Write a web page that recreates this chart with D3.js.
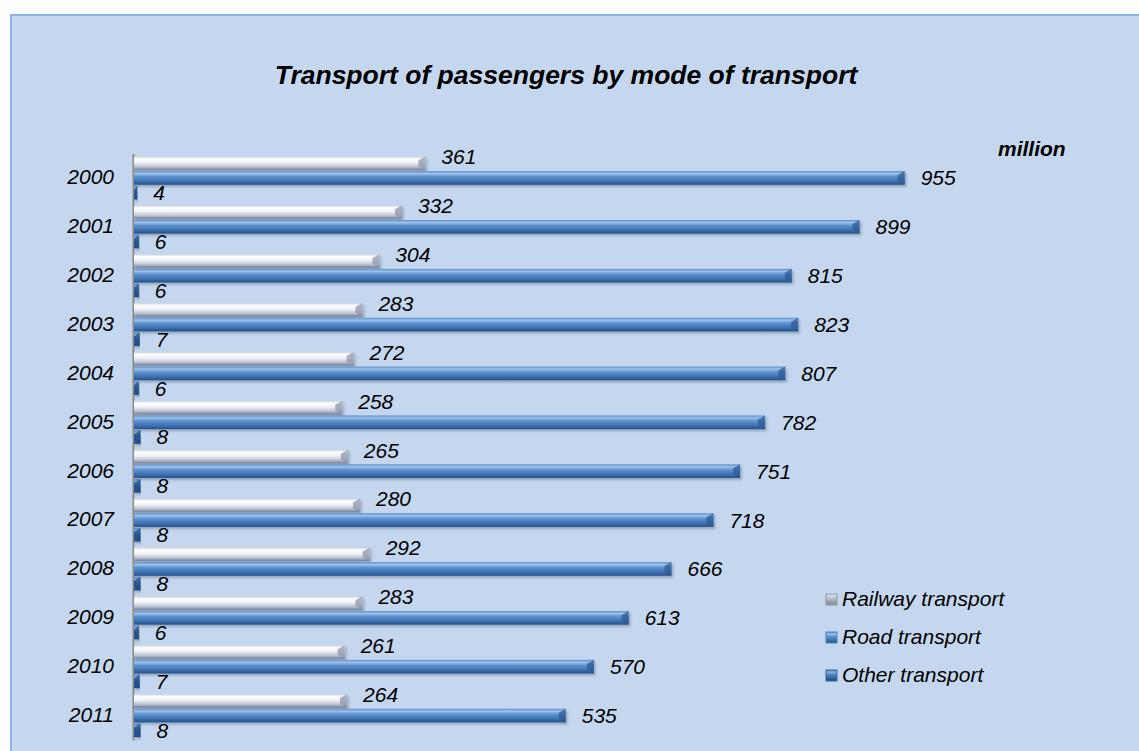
<!DOCTYPE html>
<html>
<head>
<meta charset="utf-8">
<script src="https://cdn.jsdelivr.net/npm/d3@7/dist/d3.min.js"></script>
<style>
  body { margin: 0; background: #ffffff; }
  svg text { font-family: "Liberation Sans", Arial, sans-serif; }
</style>
</head>
<body>
<div id="chart"></div>
<script>
// chart data
const years = ['2000', '2001', '2002', '2003', '2004', '2005', '2006', '2007', '2008', '2009', '2010', '2011'];
const seriesNames = ['Railway transport', 'Road transport', 'Other transport'];
const railway = [361, 332, 304, 283, 272, 258, 265, 280, 292, 283, 261, 264];
const road = [955, 899, 815, 823, 807, 782, 751, 718, 666, 613, 570, 535];
const other = [4, 6, 6, 7, 6, 8, 8, 8, 8, 6, 7, 8];
const seriesValues = [railway, road, other];

const W = 1139, H = 751;
const svg = d3.select('#chart').append('svg')
    .attr('width', W)
    .attr('height', H);

const defs = svg.append('defs');

// vertical gradients giving the bars their bevelled look
function gradient(id, stops) {
    const g = defs.append('linearGradient')
        .attr('id', id)
        .attr('x1', 0).attr('y1', 0).attr('x2', 0).attr('y2', 1);
    stops.forEach(s => g.append('stop').attr('offset', s[0]).attr('stop-color', s[1]));
}
gradient('g-rail', [[0, '#c9d2e0'], [0.18, '#ffffff'], [0.45, '#eef1f6'], [0.75, '#bcc4d3'], [1, '#737d92']]);
gradient('g-road', [[0, '#5b8cc8'], [0.18, '#9fc3ec'], [0.4, '#5d91d0'], [0.75, '#3d70ae'], [1, '#24508a']]);
gradient('g-other', [[0, '#4f80be'], [0.2, '#86b0e3'], [0.45, '#4b7fbf'], [0.8, '#2e5e9c'], [1, '#1d4479']]);
gradient('g-rail-key', [[0, '#e6e9ef'], [0.3, '#c4c9d4'], [1, '#7d8597']]);
const fills = ['url(#g-rail)', 'url(#g-road)', 'url(#g-other)'];
const keyFills = ['url(#g-rail-key)', 'url(#g-road)', 'url(#g-other)'];
const capColors = ['#8d96a8', '#2d5b94', '#214b80'];
const legendColors = ['#8f97a6', '#4f81bd', '#3566a4'];

const shadow = defs.append('filter').attr('id', 'shadow')
    .attr('x', '-5%').attr('y', '-30%').attr('width', '110%').attr('height', '170%');
shadow.append('feDropShadow')
    .attr('dx', 1.5).attr('dy', 2).attr('stdDeviation', 1.2)
    .attr('flood-color', '#1f2f4a').attr('flood-opacity', 0.3);

// background panel
svg.append('rect')
    .attr('x', 11).attr('y', 15)
    .attr('width', W).attr('height', H)
    .attr('fill', '#c5d7ee')
    .attr('stroke', '#8db3e2')
    .attr('stroke-width', 2);

// title
svg.append('text')
    .attr('x', 566).attr('y', 84)
    .attr('text-anchor', 'middle')
    .style('font-size', '26.5px')
    .style('font-weight', 'bold')
    .style('font-style', 'italic')
    .text('Transport of passengers by mode of transport');

svg.append('text')
    .attr('x', 998).attr('y', 156)
    .style('font-size', '21px')
    .style('font-weight', 'bold')
    .style('font-style', 'italic')
    .text('million');

// scales
const x = d3.scaleLinear().domain([0, 1000]).range([134, 941]);
const y = d3.scaleBand().domain(years).range([153.5, 740]).paddingInner(0.1).paddingOuter(0.05);
const ySeries = d3.scaleBand().domain([0, 1, 2]).range([0, y.bandwidth()]);

// category axis
const yAxis = svg.append('g')
    .attr('transform', 'translate(133,0)')
    .call(d3.axisLeft(y).tickSize(0).tickPadding(19));
yAxis.select('.domain').attr('stroke', '#8c8a86').attr('stroke-width', 2);
yAxis.selectAll('text')
    .attr('fill', '#000')
    .style('font-size', '21px')
    .style('font-style', 'italic')
    .attr('dy', '0.3em');

// bars
const rows = [];
years.forEach((yr, i) => {
    seriesValues.forEach((vals, s) => rows.push({ year: yr, s: s, v: vals[i] }));
});

const bars = svg.append('g').attr('class', 'bars');
const barG = bars.selectAll('.bar')
    .data(rows)
    .enter()
    .append('g')
    .attr('class', 'bar')
    .attr('filter', 'url(#shadow)');

barG.append('rect')
    .attr('x', x(0))
    .attr('y', d => y(d.year) + ySeries(d.s) + 0.5)
    .attr('width', d => x(d.v) - x(0))
    .attr('height', ySeries.bandwidth() - 1)
    .attr('fill', d => fills[d.s]);

// bevelled end of each bar
barG.append('path')
    .attr('d', d => {
        const x1 = x(d.v), y0 = y(d.year) + ySeries(d.s) + 0.5, y1 = y0 + ySeries.bandwidth() - 1;
        const w = Math.min(7, x1 - x(0));
        return `M${x1 - w},${y0 + 4}L${x1},${y0}L${x1},${y1}L${x1 - w},${y1 - 4}Z`;
    })
    .attr('fill', d => capColors[d.s])
    .attr('opacity', 0.75);

// value labels
const labelDy = [1, 7.5, 7.5];
svg.append('g').selectAll('text')
    .data(rows)
    .enter()
    .append('text')
    .attr('x', d => x(d.v) + 16)
    .attr('y', d => y(d.year) + ySeries(d.s) + ySeries.bandwidth() / 2 + labelDy[d.s])
    .style('font-size', '21px')
    .style('font-style', 'italic')
    .text(d => d.v);

// legend
const legend = svg.append('g').attr('transform', 'translate(826,594)');
const li = legend.selectAll('g')
    .data(seriesNames)
    .enter()
    .append('g')
    .attr('transform', (d, i) => `translate(0,${i * 38})`);
li.append('rect')
    .attr('width', 11).attr('height', 11)
    .attr('fill', (d, i) => keyFills[i])
    .attr('stroke', (d, i) => legendColors[i])
    .attr('stroke-width', 1);
li.append('text')
    .attr('x', 16).attr('y', 12)
    .style('font-size', '21px')
    .style('font-style', 'italic')
    .text(d => d);
</script>
</body>
</html>
